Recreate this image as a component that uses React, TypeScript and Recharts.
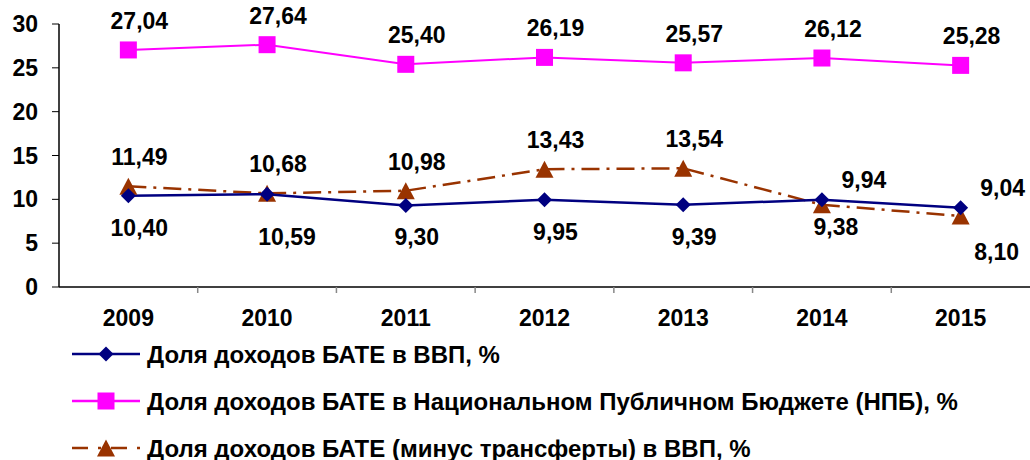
import { LineChart, Line, XAxis, YAxis, LabelList } from 'recharts';

const years = ['2009', '2010', '2011', '2012', '2013', '2014', '2015'];
const gdpShare = [10.4, 10.59, 9.3, 9.95, 9.39, 9.94, 9.04];
const budgetShare = [27.04, 27.64, 25.4, 26.19, 25.57, 26.12, 25.28];
const netGdpShare = [11.49, 10.68, 10.98, 13.43, 13.54, 9.38, 8.1];
const yTicks = [0, 5, 10, 15, 20, 25, 30];

const gdpName = 'Доля доходов БАТЕ в ВВП, %';
const budgetName = 'Доля доходов БАТЕ в Национальном Публичном Бюджете (НПБ), %';
const netName = 'Доля доходов БАТЕ (минус трансферты) в ВВП, %';

const rows = years.map((year, i) => ({
  year,
  gdp: gdpShare[i],
  npb: budgetShare[i],
  net: netGdpShare[i],
}));

const NAVY = '#000080';
const MAGENTA = '#FF00FF';
const BROWN = '#993300';
const FONT = '"Liberation Sans", Arial, sans-serif';
const NET_DASH = '18 7 3 7';
const FS = 23;

const W = 1030;
const H = 340;
const PLOT_TOP = 24;
const PLOT_BOTTOM = 287;
const Y_W = 59;
const HALF_BAND = (W - Y_W) / years.length / 2;

// where each value label sits relative to its point
type Place = 'above' | 'below' | 'belowFar' | 'upRight' | 'downRight' | 'justBelow';
const OFFSETS: Record<Place, [number, number]> = {
  above: [11, -29],
  below: [11, 32],
  belowFar: [20, 43],
  upRight: [42, -20],
  downRight: [36, 36],
  justBelow: [14, 22],
};
const gdpPlace: Place[] = ['below', 'belowFar', 'below', 'below', 'below', 'upRight', 'upRight'];
const npbPlace: Place[] = ['above', 'above', 'above', 'above', 'above', 'above', 'above'];
const netPlace: Place[] = ['above', 'above', 'above', 'above', 'above', 'justBelow', 'downRight'];

const fmt = (v: number) => v.toFixed(2).replace('.', ',');

function makeLabel(place: Place[]) {
  return (props: any) => {
    const { x, y, value, index } = props;
    if (x == null || y == null) return null;
    const [dx, dy] = OFFSETS[place[index] ?? 'above'];
    return (
      <text
        x={x + dx}
        y={y + dy}
        textAnchor="middle"
        dominantBaseline="central"
        fontFamily={FONT}
        fontWeight="bold"
        fontSize={FS}
        fill="#000"
      >
        {fmt(Number(value))}
      </text>
    );
  };
}

function Diamond({ cx, cy, color, r = 7.5 }: any) {
  if (cx == null || cy == null) return null;
  return <polygon points={`${cx},${cy - r} ${cx + r},${cy} ${cx},${cy + r} ${cx - r},${cy}`} fill={color} />;
}

function Square({ cx, cy, color, r = 8.5 }: any) {
  if (cx == null || cy == null) return null;
  return <rect x={cx - r} y={cy - r} width={r * 2} height={r * 2} fill={color} />;
}

function Triangle({ cx, cy, color, r = 8.5 }: any) {
  if (cx == null || cy == null) return null;
  return <polygon points={`${cx},${cy - r} ${cx + r + 0.5},${cy + r} ${cx - r - 0.5},${cy + r}`} fill={color} />;
}

function YearTick(props: any) {
  const { x, payload, index } = props;
  const axisY = PLOT_BOTTOM;
  return (
    <g>
      {index < years.length - 1 && (
        <line x1={x + HALF_BAND} y1={axisY} x2={x + HALF_BAND} y2={axisY + 6} stroke="#888" strokeWidth={1.5} />
      )}
      <text
        x={x}
        y={axisY + 31}
        textAnchor="middle"
        dominantBaseline="central"
        fontFamily={FONT}
        fontWeight="bold"
        fontSize={FS}
        fill="#000"
      >
        {payload.value}
      </text>
    </g>
  );
}

const legendItems = [
  { name: gdpName, color: NAVY, dash: undefined, Marker: Diamond, y: 354 },
  { name: budgetName, color: MAGENTA, dash: undefined, Marker: Square, y: 401 },
  { name: netName, color: BROWN, dash: '16 10 3 10', Marker: Triangle, y: 448 },
];

export default function App() {
  return (
    <div style={{ position: 'absolute', left: 0, top: 0, width: W, height: 460, background: '#fff' }}>
      <LineChart width={W} height={H} data={rows} margin={{ top: PLOT_TOP, right: 0, left: 0, bottom: 0 }}>
        <XAxis
          dataKey="year"
          padding={{ left: HALF_BAND, right: HALF_BAND }}
          axisLine={{ stroke: '#000', strokeWidth: 1.5 }}
          tickLine={false}
          height={H - PLOT_BOTTOM}
          tick={<YearTick />}
          interval={0}
        />
        <YAxis
          width={Y_W}
          domain={[0, 30]}
          ticks={yTicks}
          interval={0}
          axisLine={{ stroke: '#000', strokeWidth: 1.5 }}
          tickLine={{ stroke: '#000' }}
          tickSize={7}
          tickMargin={14}
          tick={{ fontFamily: FONT, fontWeight: 'bold', fontSize: FS, fill: '#000' }}
        />
        <Line
          dataKey="npb"
          stroke={MAGENTA}
          strokeWidth={2}
          isAnimationActive={false}
          dot={(p: any) => <Square key={`s${p.index}`} cx={p.cx} cy={p.cy} color={MAGENTA} />}
        >
          <LabelList dataKey="npb" content={makeLabel(npbPlace)} />
        </Line>
        <Line
          dataKey="net"
          stroke={BROWN}
          strokeWidth={2.5}
          strokeDasharray={NET_DASH}
          isAnimationActive={false}
          dot={(p: any) => <Triangle key={`t${p.index}`} cx={p.cx} cy={p.cy} color={BROWN} />}
        >
          <LabelList dataKey="net" content={makeLabel(netPlace)} />
        </Line>
        <Line
          dataKey="gdp"
          stroke={NAVY}
          strokeWidth={2.5}
          isAnimationActive={false}
          dot={(p: any) => <Diamond key={`d${p.index}`} cx={p.cx} cy={p.cy} color={NAVY} />}
        >
          <LabelList dataKey="gdp" content={makeLabel(gdpPlace)} />
        </Line>
      </LineChart>
      <svg width={W} height={460 - H} style={{ position: 'absolute', left: 0, top: H }}>
        {legendItems.map(({ name, color, dash, Marker, y }) => (
          <g key={name}>
            <line x1={72} x2={140} y1={y - H} y2={y - H} stroke={color} strokeWidth={2.5} strokeDasharray={dash} />
            <Marker cx={106} cy={y - H} color={color} />
            <text
              x={147}
              y={y - H}
              dominantBaseline="central"
              fontFamily={FONT}
              fontWeight="bold"
              fontSize={24}
              fill="#000"
            >
              {name}
            </text>
          </g>
        ))}
      </svg>
    </div>
  );
}
